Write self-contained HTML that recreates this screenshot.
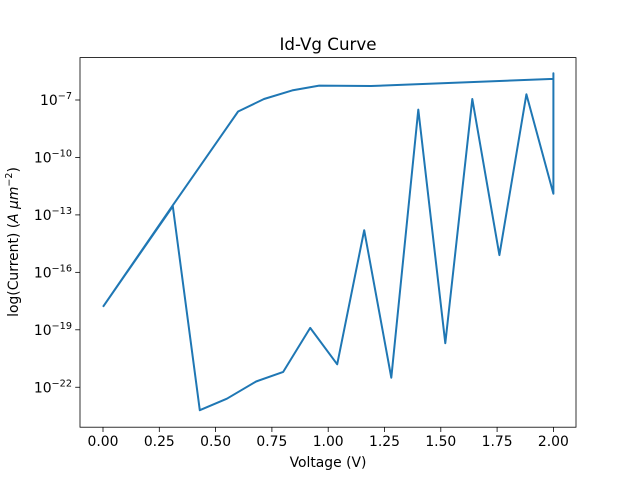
<!DOCTYPE html>
<html><head><meta charset="utf-8"><style>
body{margin:0;background:#fff}
svg text{font-family:"DejaVu Sans","Liberation Sans",sans-serif;fill:#000}
</style></head><body>
<svg width="640" height="480" viewBox="0 0 640 480">
<rect width="640" height="480" fill="#fff"/>
<text x="328" y="50" font-size="16.7" text-anchor="middle">Id-Vg Curve</text>
<g id="xt"></g>
<g id="yt"></g>
<path id="line" fill="none" stroke="#1f77b4" stroke-width="2" stroke-linejoin="round"/>
<rect x="80" y="57.6" width="496" height="369.6" fill="none" stroke="#000" stroke-width="0.8"/>
<text x="328" y="467" font-size="13.9" text-anchor="middle">Voltage (V)</text>
<text transform="translate(18,242) rotate(-90)" font-size="13.9" text-anchor="middle">log(Current) (<tspan font-style="italic">A μm</tspan><tspan font-size="9.5" dy="-6">−2</tspan><tspan dy="6">)</tspan></text>
</svg>
<script>
const voltage=[0,0.31,0.6,0.715,0.84,0.96,1.19,2.0,2.0,2.0,1.88,1.76,1.64,1.52,1.4,1.28,1.16,1.04,0.92,0.8,0.68,0.55,0.43,0.31,0];
const logCurrent=[-17.8,-12.5,-7.6,-6.95,-6.5,-6.25,-6.27,-5.9,-5.6,-11.9,-6.7,-15.1,-6.95,-19.7,-7.5,-21.5,-13.8,-20.8,-18.9,-21.2,-21.7,-22.6,-23.2,-12.55,-17.8];
const xTicks=[0,0.25,0.5,0.75,1.0,1.25,1.5,1.75,2.0];
const xTickLabels=["0.00","0.25","0.50","0.75","1.00","1.25","1.50","1.75","2.00"];
const yTicks=[-7,-10,-13,-16,-19,-22];
const NS="http://www.w3.org/2000/svg";
const xs=v=>103+v*225.2;
const ys=e=>100+(-7-e)*19.15;
let d="";
voltage.forEach((v,i)=>{d+=(i?"L":"M")+xs(v).toFixed(1)+" "+ys(logCurrent[i]).toFixed(1);});
document.getElementById('line').setAttribute('d',d);
const xt=document.getElementById('xt');
xTicks.forEach((t,i)=>{
const x=xs(t);
const l=document.createElementNS(NS,'line');


l.setAttribute('x1',x);l.setAttribute('x2',x);l.setAttribute('y1',427.2);l.setAttribute('y2',432);l.setAttribute('stroke','#000');l.setAttribute('stroke-width','0.8');
xt.appendChild(l);
const tx=document.createElementNS(NS,'text');


tx.setAttribute('x',x);tx.setAttribute('y',446);tx.setAttribute('font-size','13.9');tx.setAttribute('text-anchor','middle');
tx.textContent=xTickLabels[i];xt.appendChild(tx);
});
const yt=document.getElementById('yt');
yTicks.forEach(t=>{
const y=ys(t);
const l=document.createElementNS(NS,'line');


l.setAttribute('x1',75.2);l.setAttribute('x2',80);l.setAttribute('y1',y);l.setAttribute('y2',y);l.setAttribute('stroke','#000');l.setAttribute('stroke-width','0.8');
yt.appendChild(l);
const tx=document.createElementNS(NS,'text');


tx.setAttribute('x',72);tx.setAttribute('y',y+5);tx.setAttribute('font-size','13.9');tx.setAttribute('text-anchor','end');
tx.innerHTML='10<tspan font-size="9.7" dy="-6">−'+(-t)+'</tspan>';
yt.appendChild(tx);
});
</script>
</body></html>
